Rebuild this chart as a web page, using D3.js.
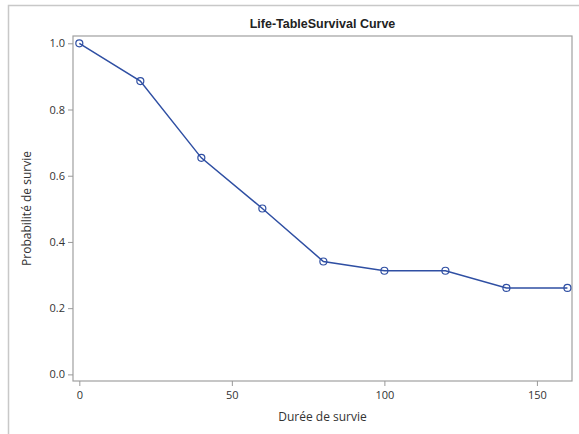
<!DOCTYPE html>
<html>
<head>
<meta charset="utf-8">
<script src="https://cdn.jsdelivr.net/npm/d3@7"></script>
<style>
  html, body { margin: 0; padding: 0; background: #fff; }
  svg { display: block; }
  .tick text { font-family: "Open Sans", sans-serif; font-size: 11px; fill: #333; }
  .axis-label { font-family: "Open Sans", sans-serif; font-size: 12px; fill: #333; }
  .title { font-family: "Liberation Sans", Arial, sans-serif; font-size: 12.5px; font-weight: bold; fill: #222; }
</style>
</head>
<body>
<svg id="chart"></svg>
<script>
// survival table data
const times = [0, 20, 40, 60, 80, 100, 120, 140, 160];
const survival = [1.0, 0.886, 0.654, 0.501, 0.341, 0.313, 0.313, 0.261, 0.261];
const xTicks = [0, 50, 100, 150];
const yTicks = [0.0, 0.2, 0.4, 0.6, 0.8, 1.0];

const width = 579, height = 434;
const plot = { left: 73, top: 36, right: 572, bottom: 381 };

const svg = d3.select("#chart").attr("width", width).attr("height", height);

// outer frame
svg.append("path")
  .attr("d", `M8.5,${height} V5.5 H${width + 2}`)
  .attr("fill", "none")
  .attr("stroke", "#c8c8c8")
  .attr("stroke-width", 1.5);

const x = d3.scaleLinear().domain([-2.07, 161.5]).range([plot.left, plot.right]);
const y = d3.scaleLinear().domain([-0.02, 1.022]).range([plot.bottom, plot.top]);

// plot border
svg.append("rect")
  .attr("x", plot.left).attr("y", plot.top)
  .attr("width", plot.right - plot.left).attr("height", plot.bottom - plot.top)
  .attr("fill", "none").attr("stroke", "#a0a0a0").attr("stroke-width", 1.2);

const xAxis = svg.append("g")
  .attr("transform", `translate(0,${plot.bottom})`)
  .call(d3.axisBottom(x).tickValues(xTicks).tickSize(5).tickPadding(5).tickFormat(d3.format("d")));

const yAxis = svg.append("g")
  .attr("transform", `translate(${plot.left},0)`)
  .call(d3.axisLeft(y).tickValues(yTicks).tickSize(5).tickPadding(3).tickFormat(d3.format(".1f")));

[xAxis, yAxis].forEach(a => {
  a.select(".domain").remove();
  a.selectAll(".tick line").attr("stroke", "#999");
});

// survival line
const line = d3.line().x((d, i) => x(times[i])).y(d => y(d));
svg.append("path")
  .datum(survival)
  .attr("d", line)
  .attr("fill", "none")
  .attr("stroke", "#2f4fa3")
  .attr("stroke-width", 1.5);

svg.selectAll(".pt")
  .data(survival)
  .enter().append("circle")
  .attr("class", "pt")
  .attr("cx", (d, i) => x(times[i]))
  .attr("cy", d => y(d))
  .attr("r", 3.5)
  .attr("fill", "none")
  .attr("stroke", "#2f4fa3")
  .attr("stroke-width", 1.2);

// labels
svg.append("text")
  .attr("class", "title")
  .attr("x", (plot.left + plot.right) / 2).attr("y", 28)
  .attr("text-anchor", "middle")
  .text("Life-TableSurvival Curve");

svg.append("text")
  .attr("class", "axis-label")
  .attr("x", (plot.left + plot.right) / 2).attr("y", 421)
  .attr("text-anchor", "middle")
  .text("Durée de survie");

svg.append("text")
  .attr("class", "axis-label")
  .attr("transform", `translate(31,${(plot.top + plot.bottom) / 2}) rotate(-90)`)
  .attr("text-anchor", "middle")
  .text("Probabilité de survie");
</script>
</body>
</html>
